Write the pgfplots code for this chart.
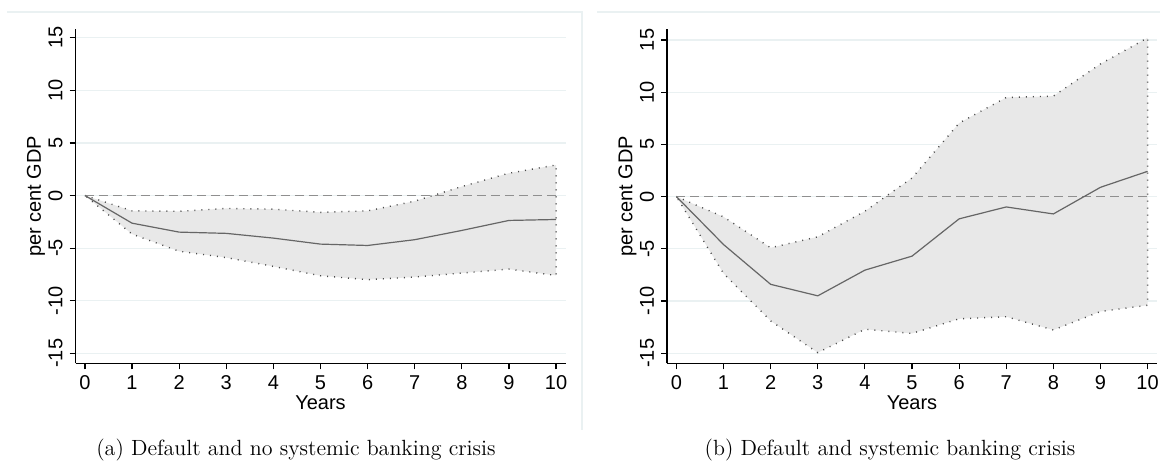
\documentclass[border=0pt]{standalone}
\usepackage{fontspec}
\newfontfamily\arial{Liberation Sans}
\usepackage{pgfplots}
\pgfplotsset{compat=1.18}
\definecolor{bandfill}{HTML}{E8E8E8}
\definecolor{bandedge}{HTML}{4A4A4A}
\definecolor{meanline}{HTML}{666666}
\definecolor{zeroline}{HTML}{8F8F8F}
\definecolor{gridc}{HTML}{EAF1F2}
\newcommand{\chfont}{\arial\fontsize{10}{12}\selectfont}
\pgfplotsset{irf/.style={
  scale only axis, width=245pt, height=167pt,
  xmin=-0.2, xmax=10.2,
  axis x line*=bottom, axis y line*=left,
  xtick={0,...,10}, ytick={-15,-10,...,15},
  tick align=outside, major tick length=3pt,
  tick style={black, line width=0.6pt},
  axis line style={black, line width=0.7pt},
  ymajorgrids, grid style={gridc, line width=0.6pt},
  /pgf/number format/assume math mode=true,
  tick label style={font=\chfont},
  yticklabel style={rotate=90, anchor=south, inner sep=0pt},
  xticklabel style={anchor=north, inner sep=0pt},
  xticklabel shift=2.85pt, yticklabel shift=3.25pt,
  xlabel={Years}, ylabel={per cent GDP},
  label style={font=\chfont},
  xlabel style={at={(axis description cs:0.5,-0.0949)}, anchor=north, inner sep=0pt},
  ylabel style={at={(axis description cs:-0.0806,0.5)}, anchor=center, inner sep=0pt},
  clip=false,
}}
\begin{document}
\begin{tikzpicture}
\useasboundingbox (0,0) rectangle (580pt,235pt);
\draw[gridc, line width=0.6pt] (3.5pt,229pt) -- (291pt,229pt) -- (291pt,20pt);
\draw[gridc, line width=0.6pt] (298.5pt,229pt) -- (580pt,229pt);
% Left panel
\begin{axis}[irf, at={(37.75pt,53.35pt)}, anchor=south west, ymin=-15.95, ymax=15.8]
\addplot[fill=bandfill, draw=bandedge, dash pattern=on 0.5pt off 3pt, line width=0.7pt] coordinates {
 (0,0) (1,-1.46) (2,-1.5) (3,-1.23) (4,-1.3) (5,-1.6) (6,-1.46) (7,-0.54) (8,0.85) (9,2.12) (10,2.9)
 (10,-7.6) (9,-7.0) (8,-7.37) (7,-7.75) (6,-8.0) (5,-7.63) (4,-6.74) (3,-5.9) (2,-5.3) (1,-3.67) (0,0)};
\addplot[zeroline, dash pattern=on 4.5pt off 2.5pt, line width=0.8pt] coordinates {(0,0) (10,0)};
\addplot[meanline, line width=0.6pt] coordinates {
 (0,0) (1,-2.63) (2,-3.48) (3,-3.6) (4,-4.05) (5,-4.62) (6,-4.75) (7,-4.2) (8,-3.32) (9,-2.37) (10,-2.28)};
\end{axis}
% Right panel
\begin{axis}[irf, at={(333.5pt,53.35pt)}, anchor=south west, ymin=-15.96, ymax=16.02]
\addplot[fill=bandfill, draw=bandedge, dash pattern=on 0.5pt off 3pt, line width=0.7pt] coordinates {
 (0,0) (1,-1.94) (2,-4.9) (3,-3.85) (4,-1.4) (5,1.78) (6,7.04) (7,9.49) (8,9.62) (9,12.7) (10,15.2)
 (10,-10.4) (9,-11.0) (8,-12.77) (7,-11.5) (6,-11.7) (5,-13.1) (4,-12.7) (3,-14.94) (2,-11.9) (1,-7.36) (0,0)};
\addplot[zeroline, dash pattern=on 4.5pt off 2.5pt, line width=0.8pt] coordinates {(0,0) (10,0)};
\addplot[meanline, line width=0.6pt] coordinates {
 (0,0) (1,-4.59) (2,-8.4) (3,-9.5) (4,-7.04) (5,-5.7) (6,-2.13) (7,-0.99) (8,-1.66) (9,0.89) (10,2.42)};
\end{axis}
\node[font=\fontsize{11}{13}\selectfont, anchor=base] at (148pt,7pt) {(a) Default and no systemic banking crisis};
\node[font=\fontsize{11}{13}\selectfont, anchor=base] at (445pt,7pt) {(b) Default and systemic banking crisis};
\end{tikzpicture}
\end{document}
